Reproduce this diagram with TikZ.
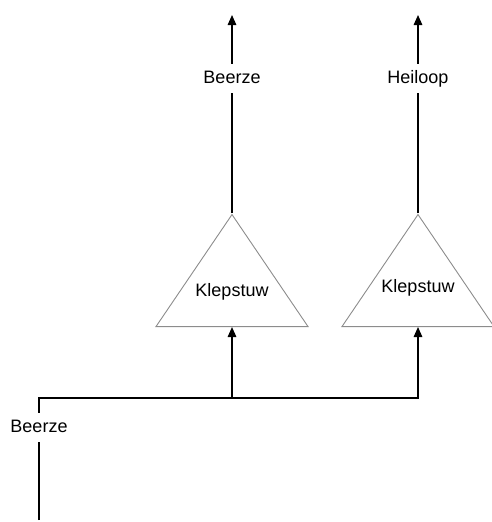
\documentclass[tikz,border=0pt]{standalone}
\usepackage{fontspec}
\setmainfont{Liberation Sans}
\usepackage{tikz}
\usetikzlibrary{shapes.geometric, arrows.meta, positioning}
\definecolor{stuwColor}{HTML}{8C8C8C}
\tikzstyle{klep} = [isosceles triangle,
isosceles triangle stretches=true,
shape border rotate=90,
minimum width=152pt,
minimum height=112pt,
inner sep=0pt,
anchor=lower side,
draw=stuwColor,
line width=0.9pt]
\tikzstyle{naam} = [inner sep=0pt, minimum height=29pt, text height=13pt, text depth=3pt, font=\fontsize{18}{20}\selectfont]
\tikzstyle{arrow} = [line width=1.5pt, -{Triangle[length=10pt, width=8.5pt]}]
\tikzstyle{pipe} = [line width=1.5pt]

\begin{document}
\begin{tikzpicture}[x=1pt,y=1pt]
    \useasboundingbox (0,0) rectangle (492,-522);
    % Nodes
    \node[klep] (stuw1) at (232,-327) {};
    \node[klep] (stuw2) at (418,-327) {};
    \node[naam] (txt1) at (232,-291) {Klepstuw};
    \node[naam] (txt2) at (418,-287) {Klepstuw};
    \node[naam] (beerzeIn) at (39,-427.5) {Beerze};
    \node[naam] (beerzeUit) at (232,-78.5) {Beerze};
    \node[naam] (heiloop) at (418,-78.5) {Heiloop};
    \coordinate (bron) at (39,-520);
    \coordinate (split) at (39,-398);
    \coordinate (uit1) at (232,-15);
    \coordinate (uit2) at (418,-15);

    % Arrows
    \draw[pipe] (bron) -- (beerzeIn);
    \draw[pipe] (beerzeIn) -- ([yshift=1.5pt]split);
    \draw[arrow] (split) -| (stuw2.lower side);
    \draw[arrow] (stuw1.lower side |- split) -- (stuw1.lower side);
    \draw[pipe] (stuw1.apex) -- (beerzeUit);
    \draw[arrow] (beerzeUit) -- (uit1);
    \draw[pipe] (stuw2.apex) -- (heiloop);
    \draw[arrow] (heiloop) -- (uit2);
\end{tikzpicture}
\end{document}
